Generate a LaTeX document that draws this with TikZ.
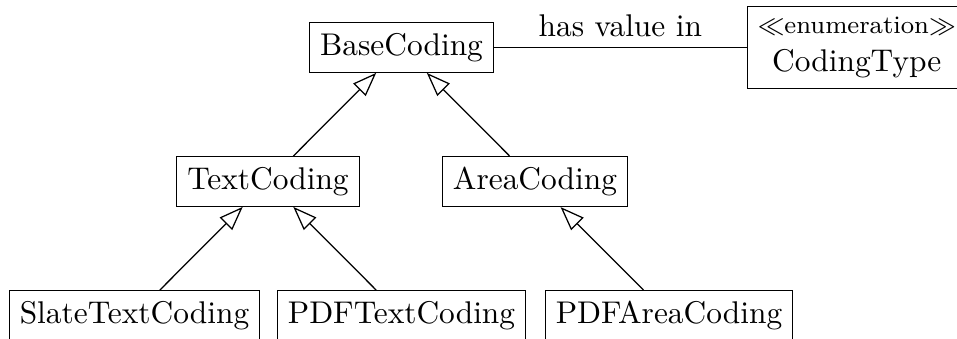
\documentclass[tikz,border=0pt]{standalone}
\usetikzlibrary{arrows.meta}
\begin{document}
\begin{tikzpicture}[x=0.3185pt,y=-0.3185pt,
  cls/.style={draw, rectangle, inner sep=3.333pt, line width=0.4pt},
  gen/.style={-{Triangle[open,length=7.6pt,width=5.6pt]}, line width=0.4pt}]
\useasboundingbox (0,0) rectangle (957,338);
\clip (0,0) rectangle (957,338);

% class hierarchy
\node[cls] (base)  at (401.5,47.5)  {BaseCoding};
\node[cls] (text)  at (268,181.5)   {TextCoding};
\node[cls] (area)  at (535,181.5)   {AreaCoding};
\node[cls] (slate) at (134.5,315.5) {SlateTextCoding};
\node[cls] (pdft)  at (401.5,315.5) {PDFTextCoding};
\node[cls] (pdfa)  at (669,315.5)   {PDFAreaCoding};

% enumeration
\node[cls, align=center, anchor=west] (ctype) at (746.7,47.5)
  {{\footnotesize$\ll$enumeration$\gg$}\\CodingType};

% generalisations
\draw[gen] (text)  -- (base);
\draw[gen] (area)  -- (base);
\draw[gen] (slate) -- (text);
\draw[gen] (pdft)  -- (text);
\draw[gen] (pdfa)  -- (area);

% association
\draw (base) -- node[above] {has value in} (ctype);
\end{tikzpicture}
\end{document}
